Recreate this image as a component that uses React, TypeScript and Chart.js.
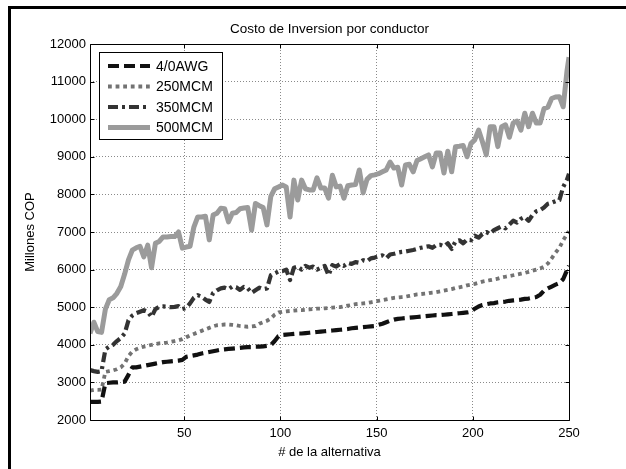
import React, { useEffect, useRef } from "react";
import { Chart, registerables } from "chart.js";

Chart.register(...registerables);

// x positions: alternative numbers (sampled every second alternative)
const alternatives: number[] = Array.from({ length: 125 }, (_, i) => 1 + 2 * i).concat([250]);

const xTickValues = [50, 100, 150, 200, 250];

const awg40 = [
  2480, 2480, 2480, 2490, 2980, 2990, 3000, 3000, 3010, 3020,
  3200, 3400, 3400, 3420, 3440, 3460, 3480, 3500, 3520, 3540,
  3550, 3560, 3570, 3580, 3600, 3680, 3700, 3720, 3740, 3770,
  3790, 3810, 3830, 3850, 3870, 3880, 3890, 3900, 3910, 3920,
  3930, 3940, 3940, 3950, 3950, 3960, 3970, 3990, 4100, 4230,
  4260, 4270, 4280, 4290, 4300, 4300, 4310, 4320, 4330, 4340,
  4350, 4360, 4370, 4380, 4390, 4400, 4410, 4420, 4440, 4450,
  4460, 4470, 4480, 4490, 4500, 4530, 4560, 4600, 4640, 4670,
  4690, 4700, 4710, 4720, 4730, 4740, 4750, 4760, 4770, 4780,
  4790, 4790, 4800, 4810, 4820, 4830, 4840, 4850, 4860, 4880,
  4960, 5020, 5060, 5080, 5100, 5110, 5130, 5140, 5150, 5170,
  5180, 5190, 5200, 5220, 5230, 5250, 5270, 5330, 5440, 5500,
  5550, 5600, 5640, 5750, 5990,
  6100,
];

const mcm250 = [
  2780, 2800, 2800, 2810, 3280, 3300, 3320, 3350, 3400, 3500,
  3700, 3820, 3880, 3920, 3950, 3970, 4000, 4020, 4040, 4050,
  4060, 4080, 4100, 4120, 4150, 4200, 4250, 4290, 4330, 4370,
  4410, 4450, 4490, 4520, 4530, 4540, 4540, 4530, 4520, 4500,
  4490, 4480, 4490, 4500, 4560, 4600, 4640, 4700, 4800, 4860,
  4880, 4890, 4900, 4910, 4920, 4920, 4930, 4940, 4950, 4960,
  4960, 4970, 4980, 4990, 5000, 5000, 5020, 5040, 5060, 5080,
  5090, 5100, 5110, 5130, 5150, 5170, 5190, 5210, 5230, 5250,
  5260, 5270, 5280, 5300, 5320, 5340, 5350, 5360, 5370, 5390,
  5400, 5420, 5440, 5460, 5480, 5510, 5530, 5550, 5580, 5600,
  5620, 5650, 5680, 5700, 5720, 5740, 5760, 5790, 5810, 5830,
  5850, 5870, 5890, 5910, 5940, 5970, 6000, 6030, 6080, 6160,
  6300, 6450, 6580, 6780, 6950,
  7020,
];

const mcm350 = [
  3330, 3300, 3280, 3300, 3880, 3950, 4000, 4100, 4180, 4300,
  4650, 4780, 4840, 4880, 4920, 4880, 4740, 4950, 5010, 5020,
  5010, 5000, 5010, 5030, 4950, 4980, 5100, 5250, 5320, 5280,
  5200, 5140, 5380, 5450, 5500, 5520, 5480, 5550, 5530, 5460,
  5540, 5500, 5380, 5450, 5520, 5480, 5500, 5850, 5900, 5950,
  5960, 6000, 5720, 6050, 6080, 6000, 6100, 6050, 6080, 6000,
  6050, 6100, 5850, 6120, 6080, 6150, 6100, 6180, 6150, 6200,
  6180, 6250, 6220, 6300, 6320, 6350, 6380, 6300, 6400, 6420,
  6450, 6470, 6480, 6500, 6520, 6550, 6580, 6600, 6620, 6580,
  6650, 6660, 6620, 6700, 6550, 6750, 6780, 6700, 6800, 6780,
  6900, 6850, 6950, 7000, 6950, 7050, 7100, 7150, 7100, 7200,
  7300, 7250, 7350, 7400, 7300, 7450, 7550, 7580, 7650, 7750,
  7780, 7820, 7850, 8200, 8400,
  8550,
];

const mcm500 = [
  4300, 4600, 4350, 4330, 4950, 5200, 5250, 5370, 5550, 5880,
  6260, 6520, 6580, 6620, 6340, 6650, 6050, 6700, 6750, 6870,
  6870, 6880, 6880, 7000, 6570, 6600, 6620, 7130, 7400, 7400,
  7420, 6790, 7450, 7500, 7630, 7620, 7270, 7500, 7520, 7620,
  7640, 7650, 7050, 7760, 7700, 7650, 7190, 7950, 8150, 8200,
  8250, 8200, 7400, 8380, 7850, 8380, 8150, 8120, 8120, 8440,
  8170, 8170, 7900, 8510, 8200, 8220, 7900, 8230, 8250, 8260,
  8650, 8040, 8400, 8500, 8520, 8550, 8600, 8650, 8860, 8700,
  8720, 8250, 8780, 8800, 8600, 8900, 8950, 9000, 9050, 8730,
  9100, 9100, 8570, 9150, 8600, 9270, 9280, 9300, 9000, 9350,
  9450, 9710, 9400, 9050, 9800, 9800, 9270, 9800, 9850, 9520,
  9900, 9950, 9710, 10160, 9800, 10160, 9900, 9900, 10280, 10320,
  10550, 10590, 10600, 10330, 11300,
  11650,
];

const seriesLabels = ["4/0AWG", "250MCM", "350MCM", "500MCM"];

const FONT = '"Liberation Sans", Arial, sans-serif';

const matlabPlugin = {
  id: "matlabDecor",
  afterDatasetsDraw(chart: any) {
    const { ctx, chartArea: a, scales } = chart;
    ctx.save();
    ctx.strokeStyle = "#000";
    ctx.lineWidth = 1;
    ctx.setLineDash([]);
    const L = Math.round(a.left) + 0.5;
    const R = Math.round(a.right) + 0.5;
    const T = Math.round(a.top) + 0.5;
    const B = Math.round(a.bottom) + 0.5;
    ctx.beginPath();
    ctx.rect(L, T, R - L, B - T);
    ctx.stroke();
    const tl = 4;
    ctx.beginPath();
    xTickValues.forEach((v) => {
      const px = Math.round(scales.x.getPixelForValue(v)) + 0.5;
      ctx.moveTo(px, B);
      ctx.lineTo(px, B - tl);
      ctx.moveTo(px, T);
      ctx.lineTo(px, T + tl);
    });
    scales.y.ticks.forEach((t: any) => {
      const py = Math.round(scales.y.getPixelForValue(t.value)) + 0.5;
      ctx.moveTo(L, py);
      ctx.lineTo(L + tl, py);
      ctx.moveTo(R, py);
      ctx.lineTo(R - tl, py);
    });
    ctx.stroke();
    ctx.restore();
  },
  afterDraw(chart: any) {
    const { ctx, chartArea: a } = chart;
    ctx.save();
    ctx.fillStyle = "#000";
    ctx.textAlign = "center";
    ctx.textBaseline = "middle";
    const cx = (a.left + a.right) / 2;
    ctx.font = `13.5px ${FONT}`;
    ctx.fillText("Costo de Inversion por conductor", cx, 29);
    ctx.font = `13px ${FONT}`;
    ctx.fillText("# de la alternativa", cx, 452);
    ctx.save();
    ctx.translate(30, (a.top + a.bottom) / 2);
    ctx.rotate(-Math.PI / 2);
    ctx.fillText("Millones COP", 0, 0);
    ctx.restore();

    const x0 = Math.round(a.left) + 9;
    const y0 = Math.round(a.top) + 8;
    const w = 123;
    const h = 87;
    ctx.fillStyle = "#fff";
    ctx.fillRect(x0, y0, w, h);
    ctx.strokeStyle = "#000";
    ctx.lineWidth = 1;
    ctx.setLineDash([]);
    ctx.strokeRect(x0 + 0.5, y0 + 0.5, w, h);
    chart.data.datasets.forEach((ds: any, i: number) => {
      const y = y0 + 14 + i * 20.5;
      ctx.beginPath();
      ctx.setLineDash(ds.borderDash || []);
      ctx.lineWidth = ds.borderWidth;
      ctx.strokeStyle = ds.borderColor;
      ctx.lineCap = "butt";
      ctx.moveTo(x0 + 9, y);
      ctx.lineTo(x0 + 51, y);
      ctx.stroke();
      ctx.setLineDash([]);
      ctx.fillStyle = "#000";
      ctx.font = `14px ${FONT}`;
      ctx.textAlign = "left";
      ctx.textBaseline = "middle";
      ctx.fillText(ds.label, x0 + 57, y + 1);
    });
    ctx.restore();
  },
};

function toPoints(values: number[]) {
  return alternatives.map((x, i) => ({ x, y: values[i] }));
}

export default function App() {
  const canvasRef = useRef<HTMLCanvasElement | null>(null);

  useEffect(() => {
    const canvas = canvasRef.current;
    if (!canvas) return;
    const chart = new Chart(canvas, {
      type: "line",
      data: {
        datasets: [
          {
            label: seriesLabels[0],
            data: toPoints(awg40),
            borderColor: "#111111",
            borderWidth: 4.2,
            borderDash: [11, 5],
            pointRadius: 0,
            borderJoinStyle: "round",
          },
          {
            label: seriesLabels[1],
            data: toPoints(mcm250),
            borderColor: "#737373",
            borderWidth: 3.8,
            borderDash: [3.8, 3.8],
            pointRadius: 0,
            borderJoinStyle: "round",
          },
          {
            label: seriesLabels[2],
            data: toPoints(mcm350),
            borderColor: "#333333",
            borderWidth: 4.2,
            borderDash: [10, 4, 3, 4],
            pointRadius: 0,
            borderJoinStyle: "round",
          },
          {
            label: seriesLabels[3],
            data: toPoints(mcm500),
            borderColor: "#9b9b9b",
            borderWidth: 5,
            pointRadius: 0,
            borderJoinStyle: "round",
          },
        ] as any,
      },
      options: {
        animation: false,
        responsive: false,
        devicePixelRatio: 1,
        layout: { padding: { left: 0, top: 44, right: 57, bottom: 0 } },
        plugins: {
          legend: { display: false },
          title: { display: false },
          tooltip: { enabled: false },
        },
        scales: {
          x: {
            type: "linear",
            min: 1,
            max: 250,
            afterBuildTicks: (scale: any) => {
              scale.ticks = xTickValues.map((v) => ({ value: v }));
            },
            afterFit: (scale: any) => {
              scale.height = 49;
            },
            grid: { color: "#8a8a8a", lineWidth: 1, drawTicks: false },
            border: { display: false, dash: [1, 2] },
            ticks: {
              color: "#000",
              font: { family: FONT, size: 13 },
              padding: 6,
              maxRotation: 0,
              callback: (v: any) => String(v),
            },
          },
          y: {
            type: "linear",
            min: 2000,
            max: 12000,
            afterFit: (scale: any) => {
              scale.width = 90;
            },
            grid: { color: "#8a8a8a", lineWidth: 1, drawTicks: false },
            border: { display: false, dash: [1, 2] },
            ticks: {
              stepSize: 1000,
              color: "#000",
              font: { family: FONT, size: 13 },
              padding: 4,
              callback: (v: any) => String(v),
            },
          },
        },
      },
      plugins: [matlabPlugin],
    });
    return () => chart.destroy();
  }, []);

  return (
    <div style={{ position: "fixed", left: 0, top: 0, width: 626, height: 469, background: "#fff" }}>
      <div
        style={{
          position: "absolute",
          left: 8,
          top: 6,
          width: 700,
          height: 600,
          borderLeft: "3px solid #000",
          borderTop: "3px solid #000",
          boxSizing: "border-box",
        }}
      />
      <canvas
        ref={canvasRef}
        width={626}
        height={469}
        style={{ position: "absolute", left: 0, top: 0, width: 626, height: 469 }}
      />
    </div>
  );
}
